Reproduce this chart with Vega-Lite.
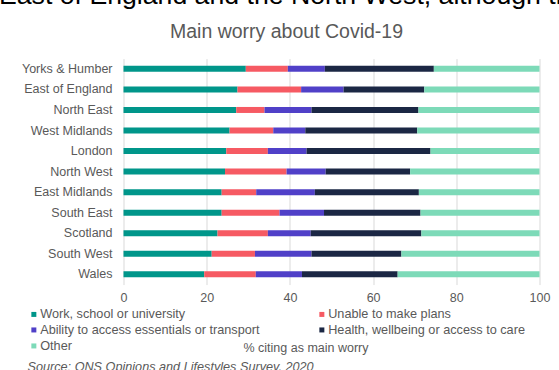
{
  "$schema": "https://vega.github.io/schema/vega-lite/v6.json",
  "autosize": {"type": "none"},
  "width": 416,
  "height": 226,
  "padding": {"left": 123.5, "top": 58.6, "right": 19.5, "bottom": 85.4},
  "background": "white",
  "config": {"view": {"stroke": null}, "font": "Liberation Sans"},
  "title": {
    "text": "East of England and the North West, although th",
    "anchor": "start",
    "frame": "group",
    "dx": -124.5,
    "offset": 11,
    "font": "Liberation Sans",
    "fontSize": 26.67,
    "fontWeight": "normal",
    "color": "#000000"
  },
  "data": {
    "values": [
      {"region": "Yorks & Humber", "Work, school or university": 29.4, "Unable to make plans": 10.1, "Ability to access essentials or transport": 8.9, "Health, wellbeing or access to care": 26.2, "Other": 25.4},
      {"region": "East of England", "Work, school or university": 27.4, "Unable to make plans": 15.3, "Ability to access essentials or transport": 10.2, "Health, wellbeing or access to care": 19.4, "Other": 27.7},
      {"region": "North East", "Work, school or university": 27.1, "Unable to make plans": 6.8, "Ability to access essentials or transport": 11.3, "Health, wellbeing or access to care": 25.7, "Other": 29.1},
      {"region": "West Midlands", "Work, school or university": 25.5, "Unable to make plans": 10.5, "Ability to access essentials or transport": 7.7, "Health, wellbeing or access to care": 26.9, "Other": 29.4},
      {"region": "London", "Work, school or university": 24.7, "Unable to make plans": 10.0, "Ability to access essentials or transport": 9.3, "Health, wellbeing or access to care": 29.8, "Other": 26.2},
      {"region": "North West", "Work, school or university": 24.4, "Unable to make plans": 14.8, "Ability to access essentials or transport": 9.4, "Health, wellbeing or access to care": 20.3, "Other": 31.1},
      {"region": "East Midlands", "Work, school or university": 23.6, "Unable to make plans": 8.3, "Ability to access essentials or transport": 14.1, "Health, wellbeing or access to care": 25.0, "Other": 29.0},
      {"region": "South East", "Work, school or university": 23.6, "Unable to make plans": 13.9, "Ability to access essentials or transport": 10.7, "Health, wellbeing or access to care": 23.2, "Other": 28.6},
      {"region": "Scotland", "Work, school or university": 22.6, "Unable to make plans": 12.1, "Ability to access essentials or transport": 10.3, "Health, wellbeing or access to care": 26.6, "Other": 28.4},
      {"region": "South West", "Work, school or university": 21.2, "Unable to make plans": 10.4, "Ability to access essentials or transport": 13.6, "Health, wellbeing or access to care": 21.6, "Other": 33.2},
      {"region": "Wales", "Work, school or university": 19.4, "Unable to make plans": 12.4, "Ability to access essentials or transport": 11.1, "Health, wellbeing or access to care": 23.0, "Other": 34.1}
    ]
  },
  "transform": [
    {"fold": ["Work, school or university", "Unable to make plans", "Ability to access essentials or transport", "Health, wellbeing or access to care", "Other"], "as": ["worry", "pct"]},
    {"window": [{"op": "row_number", "as": "stack_rank"}], "groupby": ["region"]}
  ],
  "mark": {"type": "bar", "size": 6},
  "encoding": {
    "y": {
      "field": "region",
      "type": "nominal",
      "sort": ["Yorks & Humber", "East of England", "North East", "West Midlands", "London", "North West", "East Midlands", "South East", "Scotland", "South West", "Wales"],
      "scale": {"paddingInner": 0, "paddingOuter": 0},
      "axis": {
        "title": "Main worry about Covid-19",
        "titleAngle": 0,
        "titleX": 162.5,
        "titleY": -21.5,
        "titleAlign": "center",
        "titleBaseline": "alphabetic",
        "titleFont": "Liberation Sans",
        "titleFontSize": 19.5,
        "titleFontWeight": "normal",
        "titleColor": "#595959",
        "labelFont": "Liberation Sans",
        "labelFontSize": 12.5,
        "labelColor": "#595959",
        "labelPadding": 11.5,
        "ticks": false,
        "domain": false,
        "grid": false
      }
    },
    "x": {
      "field": "pct",
      "type": "quantitative",
      "stack": "zero",
      "scale": {"domain": [0, 100]},
      "axis": {
        "title": "% citing as main worry",
        "titleX": 182,
        "titleY": 62.6,
        "titleAlign": "center",
        "titleBaseline": "middle",
        "titleFont": "Liberation Sans",
        "titleFontSize": 12.5,
        "titleFontWeight": "normal",
        "titleColor": "#595959",
        "values": [0, 20, 40, 60, 80, 100],
        "labelFont": "Liberation Sans",
        "labelFontSize": 12.5,
        "labelColor": "#595959",
        "labelPadding": 7,
        "labelFlush": false,
        "ticks": false,
        "domain": false,
        "grid": true,
        "gridColor": "#d9d9d9",
        "gridWidth": 1
      }
    },
    "order": {"field": "stack_rank", "type": "quantitative", "sort": "ascending"},
    "color": {
      "field": "worry",
      "type": "nominal",
      "scale": {
        "domain": ["Work, school or university", "Ability to access essentials or transport", "Other", "Unable to make plans", "Health, wellbeing or access to care"],
        "range": ["#00968a", "#5040c8", "#7ddab8", "#f65a63", "#1b2744"]
      },
      "legend": {
        "orient": "none",
        "legendX": -96,
        "legendY": 249,
        "columns": 2,
        "gridAlign": "each",
        "columnPadding": 55,
        "rowPadding": 2,
        "padding": 0,
        "symbolType": "square",
        "symbolSize": 25,
        "symbolStrokeWidth": 0,
        "labelFont": "Liberation Sans",
        "labelFontSize": 12.7,
        "labelColor": "#595959",
        "labelLimit": 400,
        "labelOffset": 0,
        "title": "Source: ONS Opinions and Lifestyles Survey, 2020",
        "titleOrient": "bottom",
        "titleAnchor": "start",
        "titleFont": "Liberation Sans",
        "titleFontStyle": "italic",
        "titleFontWeight": "normal",
        "titleFontSize": 12.67,
        "titleColor": "#595959",
        "titleLimit": 500,
        "titlePadding": 8
      }
    }
  }
}
